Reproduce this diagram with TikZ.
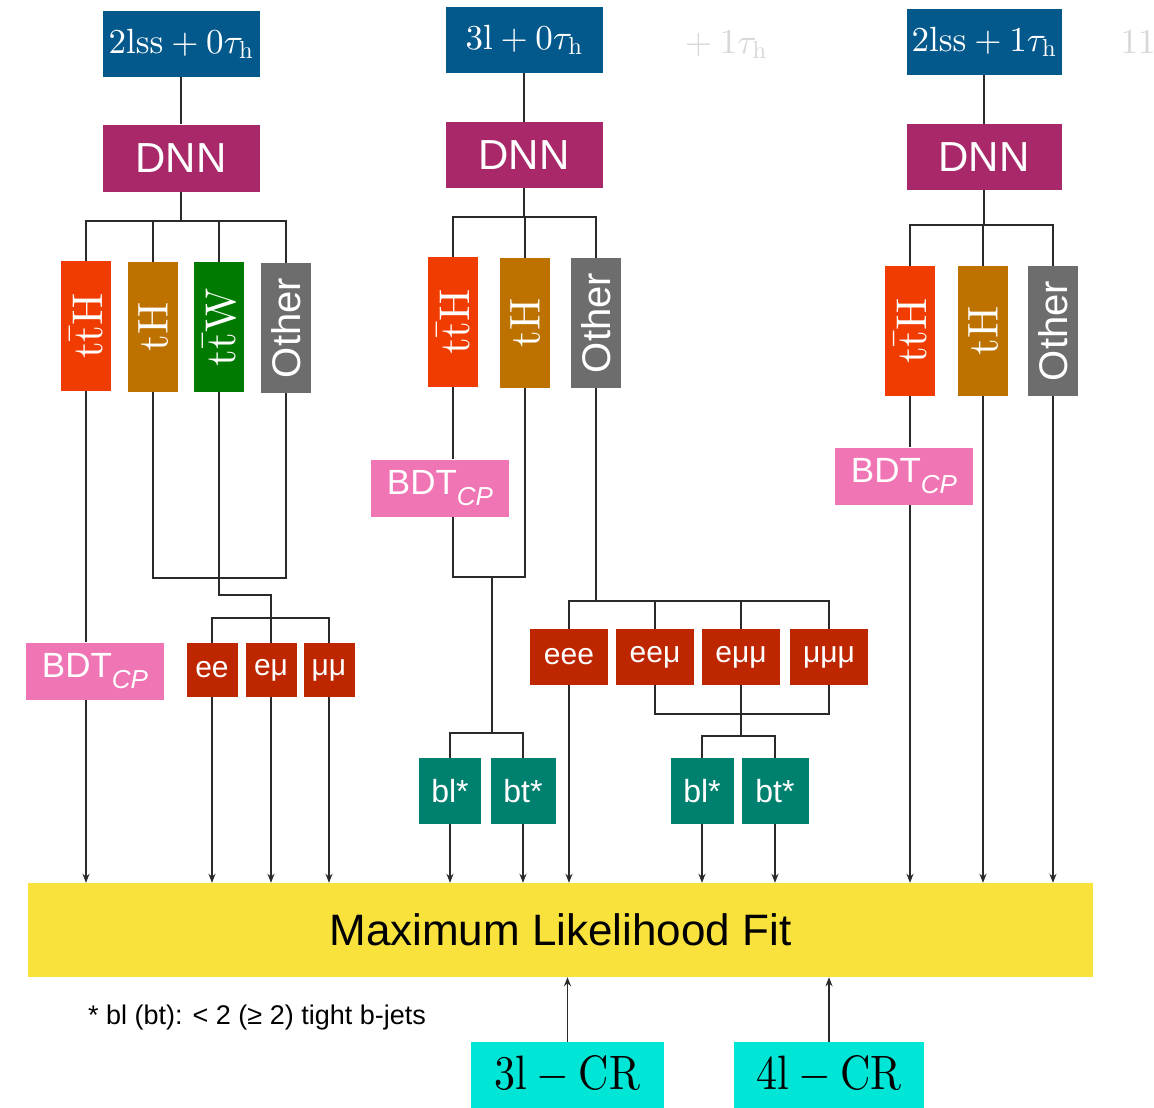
\RequirePackage{fix-cm}
\documentclass[tikz,border=0pt]{standalone}
\usepackage[no-math]{fontspec}
\DeclareFontShape{OT1}{cmr}{m}{n}{<->cmr10}{}
\DeclareFontShape{OML}{cmm}{m}{it}{<->cmmi10}{}
\DeclareFontShape{OMS}{cmsy}{m}{n}{<->cmsy10}{}
\newfontfamily\hv{Liberation Sans}
\usetikzlibrary{arrows.meta}
\definecolor{chanblue}{HTML}{04598C}
\definecolor{dnnmag}{HTML}{A8286A}
\definecolor{cttH}{HTML}{F03C00}
\definecolor{ctH}{HTML}{BD7200}
\definecolor{cttW}{HTML}{007A00}
\definecolor{cOth}{HTML}{6D6D6D}
\definecolor{bdtpink}{HTML}{F075B4}
\definecolor{lepred}{HTML}{BE2600}
\definecolor{bteal}{HTML}{00806F}
\definecolor{fityel}{HTML}{F8E23B}
\definecolor{crcyan}{HTML}{00E6D6}
\definecolor{ghostgray}{HTML}{D8D8D8}
\definecolor{lncol}{HTML}{2A2A2A}
\begin{document}
\begin{tikzpicture}[x=1pt,y=-1pt,
  box/.style={rectangle, inner sep=0pt, text=white, anchor=center},
  chan/.style={box, fill=chanblue, minimum width=157pt, minimum height=66pt, font=\fontsize{35}{42}\selectfont},
  dnn/.style={box, fill=dnnmag, minimum width=157pt, minimum height=66pt, font=\hv\fontsize{42}{48}\selectfont},
  cat/.style={box, minimum width=50pt, minimum height=130pt, font=\fontsize{43}{50}\selectfont},
  bdt/.style={box, fill=bdtpink, minimum width=138pt, minimum height=57pt, font=\hv\fontsize{35}{40}\selectfont},
  lep/.style={box, fill=lepred, font=\hv\fontsize{30}{36}\selectfont},
  bj/.style={box, fill=bteal, minimum height=66pt, font=\hv\fontsize{32}{38}\selectfont},
  crbox/.style={box, fill=crcyan, text=black, minimum height=66pt, font=\fontsize{42}{50}\selectfont},
  ghost/.style={inner sep=0pt, text=ghostgray, font=\fontsize{35}{42}\selectfont},
  ln/.style={draw=lncol, line width=1.8pt},
  arr/.style={ln, -{Stealth[length=9pt,width=7pt]}}
]
\useasboundingbox (0,0) rectangle (1154,1108);
\fill[white] (0,0) rectangle (1154,1108);

% channel boxes
\node[chan] (chanA) at (181,44) {$2\mathrm{lss}+0\tau_{\mathrm{h}}$};
\node[chan] (chanB) at (524,40) {$3\mathrm{l}+0\tau_{\mathrm{h}}$};
\node[chan, minimum width=155pt] (chanC) at (984,42) {$2\mathrm{lss}+1\tau_{\mathrm{h}}$};
\node[ghost] (ghostA) at (722,45) {${}+1\tau_{\mathrm{h}}$};
\node[ghost] (ghostB) at (1138,42) {$11$};

% DNN boxes
\node[dnn, minimum height=67pt] (dnnA) at (181,158) {DNN};
\node[dnn] (dnnB) at (524,155) {DNN};
\node[dnn, minimum width=155pt] (dnnC) at (984,157) {DNN};

% categories
\newcommand{\ttHtxt}{\rotatebox{90}{$\mathrm{t\bar{t}H}$}}
\newcommand{\tHtxt}{\rotatebox{90}{$\mathrm{tH}$}}
\newcommand{\ttWtxt}{\rotatebox{90}{$\mathrm{t\bar{t}W}$}}
\newcommand{\othtxt}{\rotatebox{90}{\hv\fontsize{40}{48}\selectfont Other}}
\node[cat, fill=cttH] (ttHA) at (86,326) {\ttHtxt};
\node[cat, fill=ctH] (tHA) at (153,327) {\tHtxt};
\node[cat, fill=cttW] (ttWA) at (219,327) {\ttWtxt};
\node[cat, fill=cOth] (othA) at (286,328) {\othtxt};
\node[cat, fill=cttH] (ttHB) at (453,322) {\ttHtxt};
\node[cat, fill=ctH] (tHB) at (525,323) {\tHtxt};
\node[cat, fill=cOth] (othB) at (596,323) {\othtxt};
\node[cat, fill=cttH] (ttHC) at (910,331) {\ttHtxt};
\node[cat, fill=ctH] (tHC) at (983,331) {\tHtxt};
\node[cat, fill=cOth] (othC) at (1053,331) {\othtxt};

% BDT boxes
\newcommand{\bdttxt}{BDT\raisebox{-0.32em}{\fontsize{26}{30}\selectfont\itshape CP}}
\node[bdt] (bdtA) at (95,671) {\bdttxt};
\node[bdt] (bdtB) at (440,488) {\bdttxt};
\node[bdt] (bdtC) at (904,476) {\bdttxt};

% lepton flavour boxes
\node[lep, minimum width=51pt, minimum height=54pt] (eeA) at (212,670) {ee};
\node[lep, minimum width=51pt, minimum height=54pt] (emA) at (271,670) {eμ};
\node[lep, minimum width=51pt, minimum height=54pt] (mmA) at (329,670) {μμ};
\node[lep, minimum width=78pt, minimum height=56pt] (eeeB) at (569,657) {eee};
\node[lep, minimum width=78pt, minimum height=56pt] (eemB) at (655,657) {eeμ};
\node[lep, minimum width=78pt, minimum height=56pt] (emmB) at (741,657) {eμμ};
\node[lep, minimum width=78pt, minimum height=56pt] (mmmB) at (829,657) {μμμ};

% b-tag boxes
\node[bj, minimum width=62pt] (blL) at (450,791) {bl*};
\node[bj, minimum width=65pt] (btL) at (523,791) {bt*};
\node[bj, minimum width=63pt] (blR) at (702,791) {bl*};
\node[bj, minimum width=67pt] (btR) at (775,791) {bt*};

% fit and control regions
\node[box, fill=fityel, text=black, minimum width=1065pt, minimum height=94pt, font=\hv\fontsize{44}{50}\selectfont] (fit) at (560.5,930) {Maximum Likelihood Fit};
\node[crbox, minimum width=193pt] (cr3) at (567.5,1075) {\scalebox{1}[1.15]{$3\mathrm{l}-\mathrm{CR}$}};
\node[crbox, minimum width=190pt] (cr4) at (829,1075) {\scalebox{1}[1.15]{$4\mathrm{l}-\mathrm{CR}$}};
\node[anchor=west, inner sep=0pt, font=\hv\fontsize{27}{32}\selectfont] (note) at (88,1018) {* bl (bt): < 2 (≥ 2) tight b-jets};

% ---- connectors: column A
\coordinate (jA) at (181,221);
\draw[ln] (chanA.south) -- (dnnA.north);
\draw[ln] (dnnA.south) -- (jA);
\draw[ln] (ttHA.north) -- (ttHA.north |- jA) -- (othA.north |- jA) -- (othA.north);
\draw[ln] (tHA.north) -- (tHA.north |- jA);
\draw[ln] (ttWA.north) -- (ttWA.north |- jA);
\draw[ln] (ttHA.south) -- (ttHA.south |- bdtA.north);
\draw[arr] (ttHA.south |- bdtA.south) -- (ttHA.south |- fit.north);
\coordinate (hA) at (0,578);
\draw[ln] (tHA.south) -- (tHA.south |- hA) -- (othA.south |- hA) -- (othA.south);
\coordinate (kA) at (0,595);
\draw[ln] (ttWA.south) -- (ttWA.south |- kA) -| (emA.north);
\coordinate (bA) at (0,618);
\draw[ln] (eeA.north) -- (eeA.north |- bA) -- (mmA.north |- bA) -- (mmA.north);
\draw[arr] (eeA.south) -- (eeA.south |- fit.north);
\draw[arr] (emA.south) -- (emA.south |- fit.north);
\draw[arr] (mmA.south) -- (mmA.south |- fit.north);

% ---- connectors: column B
\coordinate (jB) at (524,217);
\draw[ln] (chanB.south) -- (dnnB.north);
\draw[ln] (dnnB.south) -- (jB);
\draw[ln] (ttHB.north) -- (ttHB.north |- jB) -- (othB.north |- jB) -- (othB.north);
\draw[ln] (tHB.north) -- (tHB.north |- jB);
\draw[ln] (ttHB.south) -- (ttHB.south |- bdtB.north);
\coordinate (hB) at (0,577);
\draw[ln] (ttHB.south |- bdtB.south) -- (ttHB.south |- hB) -- (tHB.south |- hB) -- (tHB.south);
\coordinate (mB) at (492,577);
\coordinate (bB) at (0,733);
\draw[ln] (mB) -- (mB |- bB);
\draw[ln] (blL.north) -- (blL.north |- bB) -- (btL.north |- bB) -- (btL.north);
\draw[arr] (blL.south) -- (blL.south |- fit.north);
\draw[arr] (btL.south) -- (btL.south |- fit.north);
\coordinate (lB) at (0,601);
\draw[ln] (othB.south) -- (othB.south |- lB);
\draw[ln] (eeeB.north) -- (eeeB.north |- lB) -- (mmmB.north |- lB) -- (mmmB.north);
\draw[ln] (eemB.north) -- (eemB.north |- lB);
\draw[ln] (emmB.north) -- (emmB.north |- lB);
\draw[arr] (eeeB.south) -- (eeeB.south |- fit.north);
\coordinate (qB) at (0,714);
\draw[ln] (eemB.south) -- (eemB.south |- qB) -- (mmmB.south |- qB) -- (mmmB.south);
\coordinate (rB) at (0,736);
\draw[ln] (emmB.south) -- (emmB.south |- rB);
\draw[ln] (blR.north) -- (blR.north |- rB) -- (btR.north |- rB) -- (btR.north);
\draw[arr] (blR.south) -- (blR.south |- fit.north);
\draw[arr] (btR.south) -- (btR.south |- fit.north);

% ---- connectors: column C
\coordinate (jC) at (984,225);
\draw[ln] (chanC.south) -- (dnnC.north);
\draw[ln] (dnnC.south) -- (jC);
\draw[ln] (ttHC.north) -- (ttHC.north |- jC) -- (othC.north |- jC) -- (othC.north);
\draw[ln] (tHC.north) -- (tHC.north |- jC);
\draw[ln] (ttHC.south) -- (ttHC.south |- bdtC.north);
\draw[arr] (ttHC.south |- bdtC.south) -- (ttHC.south |- fit.north);
\draw[arr] (tHC.south) -- (tHC.south |- fit.north);
\draw[arr] (othC.south) -- (othC.south |- fit.north);

% ---- control regions
\draw[arr] (cr3.north) -- (cr3.north |- fit.south);
\draw[arr] (cr4.north) -- (cr4.north |- fit.south);
\end{tikzpicture}
\end{document}
